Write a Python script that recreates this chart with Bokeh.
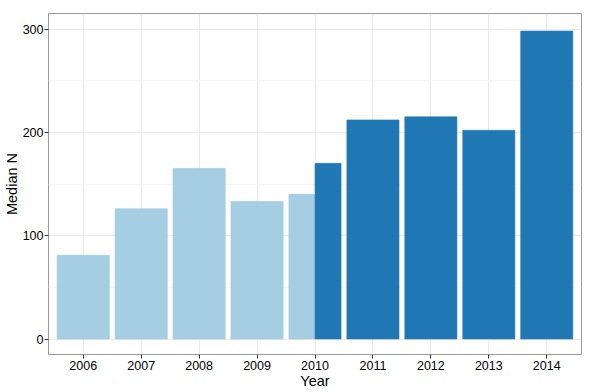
from bokeh.plotting import figure
from bokeh.models import ColumnDataSource, Range1d, FixedTicker
from bokeh.embed import file_html
from bokeh.resources import INLINE

# Data
years_early = [2006, 2007, 2008, 2009, 2010]
median_early = [81, 126, 165, 133, 140]
years_late = [2010, 2011, 2012, 2013, 2014]
median_late = [170, 212, 215, 202, 298]
x_ticks = [2006, 2007, 2008, 2009, 2010, 2011, 2012, 2013, 2014]
y_ticks = [0, 100, 200, 300]
y_minor = [50, 150, 250]

LIGHT = "#A6CEE3"
DARK = "#1F78B4"
FULL_W = 0.9


def layout_bars(years, values, other_years, side):
    xs, ws = [], []
    for yr in years:
        if yr in other_years:
            ws.append(FULL_W / 2)
            xs.append(yr + side * FULL_W / 4)
        else:
            ws.append(FULL_W)
            xs.append(yr)
    return ColumnDataSource(dict(x=xs, top=values, w=ws))


src_early = layout_bars(years_early, median_early, years_late, -1)
src_late = layout_bars(years_late, median_late, years_early, +1)

p = figure(width=595, height=392, output_backend="svg", toolbar_location=None,
           x_range=Range1d(2005.4, 2014.6), y_range=Range1d(-15, 315),
           min_border_left=47, min_border_right=14, min_border_top=13,
           min_border_bottom=38)

p.background_fill_color = "white"
p.border_fill_color = "white"
p.outline_line_color = "#9A9A9A"
p.outline_line_width = 1

p.vbar(x="x", top="top", width="w", bottom=0, source=src_early,
       fill_color=LIGHT, line_color="#9CC6DE", line_width=0.6)
p.vbar(x="x", top="top", width="w", bottom=0, source=src_late,
       fill_color=DARK, line_color="#2A7AB3", line_width=0.6)

p.xaxis.ticker = FixedTicker(ticks=x_ticks, minor_ticks=[])
p.yaxis.ticker = FixedTicker(ticks=y_ticks, minor_ticks=y_minor)

FONT = "Liberation Sans"
for ax in (p.xaxis, p.yaxis):
    ax.axis_line_color = None
    ax.major_tick_line_color = "#333333"
    ax.major_tick_out = 4
    ax.major_tick_in = 0
    ax.minor_tick_line_color = None
    ax.major_label_text_font = FONT
    ax.major_label_text_font_size = "12.5px"
    ax.major_label_text_color = "black"
    ax.axis_label_text_font = FONT
    ax.axis_label_text_font_size = "14.5px"
    ax.axis_label_text_font_style = "normal"
    ax.axis_label_text_color = "black"

p.xaxis.major_label_standoff = 2
p.yaxis.major_label_standoff = 1
p.xaxis.axis_label_standoff = 0
p.yaxis.axis_label_standoff = 0
p.xaxis.axis_label = "Year"
p.yaxis.axis_label = "Median N"

p.xgrid.grid_line_color = "#EBEBEB"
p.ygrid.grid_line_color = "#EBEBEB"
p.ygrid.minor_grid_line_color = "#F7F7F7"

open("out.html", "w").write(file_html(p, INLINE))
